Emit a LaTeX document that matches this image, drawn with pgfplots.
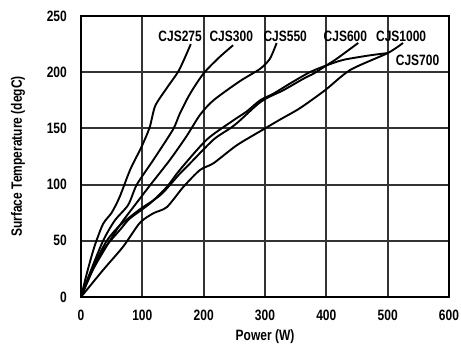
\documentclass[border=0pt]{standalone}
\usepackage{fontspec}
\setmainfont{Liberation Sans}[FakeStretch=0.8]
\usepackage{pgfplots}
\pgfplotsset{compat=1.18}

\begin{document}
\begin{tikzpicture}
\path (-81bp,-50bp) rectangle (380bp,297bp);
\begin{axis}[
    at={(0,0)}, anchor=south west,
    scale only axis,
    width=368bp, height=281bp,
    xmin=0, xmax=600, ymin=0, ymax=250,
    xtick={0,100,...,600},
    ytick={0,50,...,250},
    grid=major,
    grid style={draw=black!80, line width=2bp},
    axis line style={black, line width=1.8bp},
    tick style={draw=none},
    tick label style={font=\fontsize{15bp}{18bp}\selectfont\bfseries, inner sep=0pt},
    /pgf/number format/assume math mode=true,
    xticklabel shift=13bp,
    yticklabel shift=14bp,
    xlabel={Power (W)},
    ylabel={Surface Temperature (degC)},
    label style={font=\fontsize{15bp}{18bp}\selectfont\bfseries},
    xlabel style={at={(axis description cs:0.5,0)}, anchor=center, yshift=-40bp},
    ylabel style={at={(axis description cs:-0.1712,0.5)}, anchor=center},
    every axis plot post/.append style={black, solid, line width=1.9bp, smooth, tension=0.45, mark=none},
]
% CJS275
\addplot coordinates {(0,0)(10,22)(22,45)(36,65)(50,75)(63,89)(80,113)(99,134)(112,151)(121,170)(140,186)(160,202)(179,225)};
% CJS300
\addplot coordinates {(0,0)(15,22)(36,50)(55,68)(77,82)(91,100)(118,122)(150,149)(161,163)(178,181)(200,199)(225,213)(248,224)};
% CJS550
\addplot coordinates {(0,0)(17,22)(47,50)(66,66)(98,89)(112,99)(145,122)(172,143)(194,162)(216,175)(259,192)(292,203)(308,212)(319,226)};
% CJS600
\addplot coordinates {(0,0)(20,27)(42,50)(64,64)(96,78)(118,86)(134,93)(160,109)(178,119)(216,140)(243,150)(257,156)(287,171)(303,177)(330,184)(362,194)(380,199)(400,206)(417,212)(452,226)};
% CJS700
\addplot coordinates {(0,0)(20,25)(36,42)(64,60)(80,70)(112,83)(140,98)(161,113)(205,140)(248,157)(270,165)(292,175)(314,181)(341,190)(373,200)(400,206)(428,211)(471,215)(500,217)};
% CJS1000
\addplot coordinates {(0,0)(36,24)(69,45)(96,66)(118,74.5)(140,80)(167,98)(194,113)(216,119)(254,135)(297,149)(325,158)(357,168)(398,184)(439,202)(500,217)(525,226)};

\begin{scope}[every node/.style={font=\fontsize{15bp}{18bp}\selectfont\bfseries, inner sep=0pt}]
\node at (axis cs:161.6,232.2) {CJS275};
\node at (axis cs:245,232.2) {CJS300};
\node at (axis cs:333,232.2) {CJS550};
\node at (axis cs:431,232.2) {CJS600};
\node at (axis cs:522,232.2) {CJS1000};
\node at (axis cs:548.7,210.5) {CJS700};
\end{scope}
\end{axis}
\end{tikzpicture}
\end{document}
